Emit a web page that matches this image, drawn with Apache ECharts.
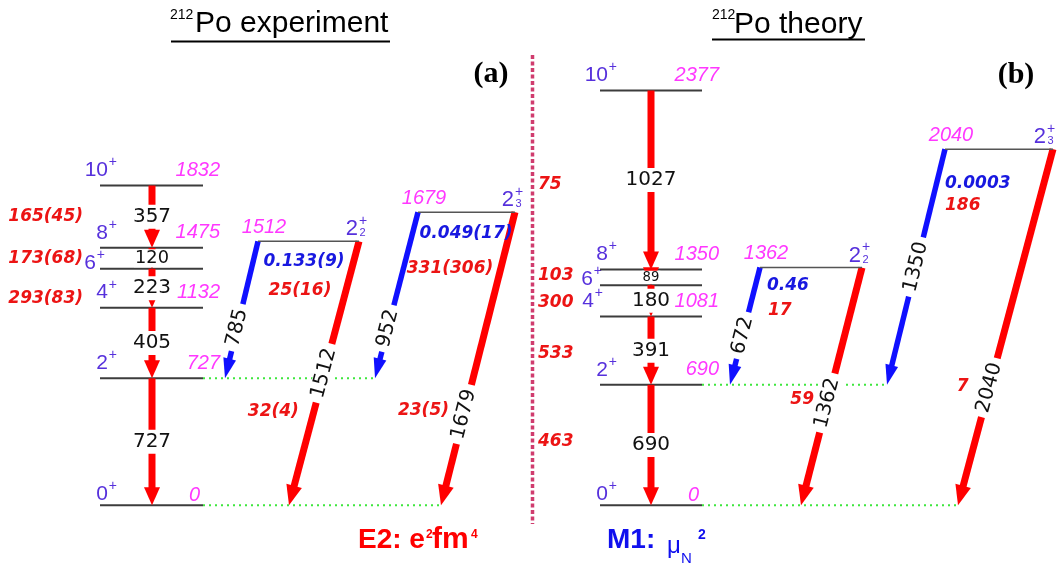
<!DOCTYPE html>
<html><head><meta charset="utf-8">
<script src="https://cdn.jsdelivr.net/npm/echarts@6/dist/echarts.min.js"></script>
<style>html,body{margin:0;padding:0;background:#fff}#c{width:1057px;height:568px}</style>
</head><body><div id="c"></div>
<script>
// ---------------- DATA ----------------
const yrastSpins = ['0', '2', '4', '6', '8', '10'];
const yrastShowEnergy = [true, true, true, false, true, true];

const expYrastEnergies = [0, 727, 1132, 1355, 1475, 1832];
const expYrastGammas = [727, 405, 223, 120, 357];          // level i+1 -> i
const expYrastBE2 = ['', '', '293(83)', '173(68)', '165(45)'];

const thYrastEnergies = [0, 690, 1081, 1261, 1350, 2377];
const thYrastGammas = [690, 391, 180, 89, 1027];
const thYrastBE2 = ['463', '533', '300', '103', '75'];

const sideSubscripts = ['2', '3'];
const expSideEnergies = [1512, 1679];
const expSideGammasToTwo = [785, 952];
const expSideGammasToZero = [1512, 1679];
const expSideBM1 = ['0.133(9)', '0.049(17)'];
const expSideBE2ToTwo = ['25(16)', '331(306)'];
const expSideBE2ToZero = ['32(4)', '23(5)'];

const thSideEnergies = [1362, 2040];
const thSideGammasToTwo = [672, 1350];
const thSideGammasToZero = [1362, 2040];
const thSideBM1 = ['0.46', '0.0003'];
const thSideBE2ToTwo = ['17', '186'];
const thSideBE2ToZero = ['59', '7'];

const panelData = [
  { energies: expYrastEnergies, gammas: expYrastGammas, be2: expYrastBE2,
    sideE: expSideEnergies, toTwo: expSideGammasToTwo, toZero: expSideGammasToZero,
    m1: expSideBM1, e2Two: expSideBE2ToTwo, e2Zero: expSideBE2ToZero },
  { energies: thYrastEnergies, gammas: thYrastGammas, be2: thYrastBE2,
    sideE: thSideEnergies, toTwo: thSideGammasToTwo, toZero: thSideGammasToZero,
    m1: thSideBM1, e2Two: thSideBE2ToTwo, e2Zero: thSideBE2ToZero }
];

// ---------------- LAYOUT (x positions / offsets in px-like units) ----------------
const layout = [
  { x1: 100, x2: 203, ax: 152, beX: 83, beAlign: 'right', beDy: [0, 0, 10, 0, 0], green2To: 375, green0To: 441,
    spinDx: [0, 0, 0, 0, 0, 0],
    side: [
      { x1: 258, x2: 359, blueTo: 225, redTo: 289, fBlue: 0.63, fRed: 0.5, fZero: 0.645, zeroDx: -15,
        m1: [46, 20, 'center'], e2: [42, 49, 'center'], spinDx: -1 },
      { x1: 418, x2: 515, blueTo: 375, redTo: 441, fBlue: 0.70, fRed: 0.69, fZero: 0.676, zeroDx: -16,
        m1: [48, 21, 'center'], e2: [32, 56, 'center'], spinDx: -1 }
    ] },
  { x1: 600, x2: 702, ax: 651, beX: 538, beAlign: 'left', beDy: [-3, 3, 2, -2, 5], green2To: 887, green0To: 958,
    spinDx: [0, 0, -14, -3, 0, 0],
    side: [
      { x1: 760, x2: 862, blueTo: 730, redTo: 801, fBlue: 0.58, fRed: 0.57, fZero: 0.557, zeroDx: -14,
        m1: [7, 18, 'left'], e2: [8, 43, 'left'], spinDx: -1 },
      { x1: 945, x2: 1053, blueTo: 887, redTo: 958, fBlue: 0.50, fRed: 0.67, fZero: 0.668, zeroDx: -21,
        m1: [0, 34, 'left'], e2: [0, 56, 'left'], spinDx: -7 }
    ] }
];

// ---------------- STYLE ----------------
const SPIN_COLOR = '#5630dc';
const ENERGY_COLOR = '#ff38ff';
const RED = '#ff0000';
const BLUE = '#1010ff';
const LABEL_RED = '#ec1414';
const LABEL_BLUE = '#1818e0';
const F_SPIN = "21px 'Liberation Sans', Arial, sans-serif";
const F_SPIN_SIDE = "22px 'Liberation Sans', Arial, sans-serif";
const F_SUP = "14px 'Liberation Sans', Arial, sans-serif";
const F_SUB = "11px 'Liberation Sans', Arial, sans-serif";
const F_EN = "italic 20px 'Liberation Sans', Arial, sans-serif";
const F_BVAL = "italic bold 17px 'DejaVu Sans', sans-serif";
const F_GAMMA = "20px 'DejaVu Sans', sans-serif";

function T(x, y, text, font, fill, align, va, extra) {
  const el = { type: 'text', x: x, y: y,
    style: { text: String(text), font: font, fill: fill, align: align, verticalAlign: va,
             textAlign: align, textVerticalAlign: va } };
  if (extra) {
    if (extra.bg) {
      el.style.backgroundColor = extra.bg; el.style.textBackgroundColor = extra.bg;
      el.style.padding = extra.pad; el.style.textPadding = extra.pad;
    }
    if (extra.lineHeight) { el.style.lineHeight = extra.lineHeight; el.style.textLineHeight = extra.lineHeight; }
    if (extra.rotation) el.rotation = extra.rotation;
  }
  return el;
}

function arrow(p0, p1, color, w, headW, headL) {
  const dx = p1[0] - p0[0], dy = p1[1] - p0[1];
  const L = Math.hypot(dx, dy), ux = dx / L, uy = dy / L;
  const bx = p1[0] - ux * headL, by = p1[1] - uy * headL;
  return [
    { type: 'line', shape: { x1: p0[0], y1: p0[1], x2: bx + ux, y2: by + uy },
      style: { stroke: color, lineWidth: w } },
    { type: 'polygon', shape: { points: [[p1[0], p1[1]],
        [bx - uy * headW / 2, by + ux * headW / 2], [bx + uy * headW / 2, by - ux * headW / 2]] },
      style: { fill: color } }
  ];
}

// ---------------- ROWS ----------------
const yrastLevelRows = [], yrastTransRows = [], sideLevelRows = [], sideTransRows = [], greenRows = [];
panelData.forEach(function (D, pi) {
  const Lp = layout[pi];
  D.energies.forEach(function (E, li) { yrastLevelRows.push([Lp.x1, Lp.x2, E, pi, li]); });
  D.gammas.forEach(function (g, ti) { yrastTransRows.push([Lp.ax, D.energies[ti + 1], D.energies[ti], pi, ti]); });
  greenRows.push([Lp.x2, Lp.green2To, D.energies[1]]);
  greenRows.push([Lp.x2, Lp.green0To, D.energies[0]]);
  D.sideE.forEach(function (E, si) {
    const S = Lp.side[si];
    sideLevelRows.push([S.x1, S.x2, E, pi, si]);
    sideTransRows.push([S.x1, E, S.blueTo, D.energies[1], pi, si, 0]);
    sideTransRows.push([S.x2, E, S.redTo, D.energies[0], pi, si, 1]);
  });
});

function renderYrastLevel(params, api) {
  const E = api.value(2), pi = api.value(3), li = api.value(4);
  const a = api.coord([api.value(0), E]), b = api.coord([api.value(1), E]);
  const y = a[1];
  const ch = [{ type: 'line', shape: { x1: a[0], y1: y, x2: b[0], y2: y }, style: { stroke: '#3c3c3c', lineWidth: 2 } }];
  let sx, sy;
  if (yrastSpins[li] === '6') { sx = a[0] + 5; sy = y - 6; }
  else { sx = a[0] + 17; sy = E === 0 ? y - 11 : y - 15; }
  sx += layout[pi].spinDx[li];
  ch.push(T(sx - 9, sy, yrastSpins[li], F_SPIN, SPIN_COLOR, 'right', 'middle'));
  ch.push(T(sx, sy - 8, '+', F_SUP, SPIN_COLOR, 'right', 'middle'));
  if (yrastShowEnergy[li]) {
    const lab = String(panelData[pi].energies[li]);
    if (E === 0) ch.push(T(b[0] - 3, y - 10, lab, F_EN, ENERGY_COLOR, 'right', 'middle'));
    else ch.push(T(b[0] + 17, y - 15, lab, F_EN, ENERGY_COLOR, 'right', 'middle'));
  }
  return { type: 'group', children: ch };
}

function renderYrastTrans(params, api) {
  const pi = api.value(3), ti = api.value(4);
  const p0 = api.coord([api.value(0), api.value(1)]), p1 = api.coord([api.value(0), api.value(2)]);
  const ch = arrow(p0, p1, RED, 7, 16, 18);
  const my = (p0[1] + p1[1]) / 2, gap = p1[1] - p0[1];
  const fs = Math.min(20, gap * 0.85);
  ch.push(T(p0[0], my, panelData[pi].gammas[ti], fs.toFixed(1) + "px 'DejaVu Sans', sans-serif", '#111', 'center', 'middle',
    { bg: '#fff', pad: fs >= 19 ? [2, 2] : [0, 1], lineHeight: fs }));
  const be = panelData[pi].be2[ti];
  if (be) ch.push(T(layout[pi].beX, my + layout[pi].beDy[ti], be, F_BVAL, LABEL_RED, layout[pi].beAlign, 'middle'));
  return { type: 'group', children: ch };
}

function renderSideLevel(params, api) {
  const E = api.value(2), pi = api.value(3), si = api.value(4);
  const S = layout[pi].side[si], D = panelData[pi];
  const a = api.coord([api.value(0), E]), b = api.coord([api.value(1), E]);
  const y = a[1];
  const ch = [{ type: 'line', shape: { x1: a[0], y1: y, x2: b[0], y2: y }, style: { stroke: '#555', lineWidth: 1.5 } }];
  ch.push(T(a[0] + 6, y - 14, E, F_EN, ENERGY_COLOR, 'center', 'middle'));
  const rx = b[0] + S.spinDx;
  ch.push(T(rx, y - 12, '2', F_SPIN_SIDE, SPIN_COLOR, 'right', 'middle'));
  ch.push(T(rx + 1, y - 20, '+', F_SUP, SPIN_COLOR, 'left', 'middle'));
  ch.push(T(rx + 1.5, y - 8, sideSubscripts[si], F_SUB, SPIN_COLOR, 'left', 'middle'));
  ch.push(T(a[0] + S.m1[0], y + S.m1[1], D.m1[si], F_BVAL, LABEL_BLUE, S.m1[2], 'middle'));
  ch.push(T(a[0] + S.e2[0], y + S.e2[1], D.e2Two[si], F_BVAL, LABEL_RED, S.e2[2], 'middle'));
  return { type: 'group', children: ch };
}

function renderSideTrans(params, api) {
  const pi = api.value(4), si = api.value(5), kind = api.value(6);
  const S = layout[pi].side[si], D = panelData[pi];
  const p0 = api.coord([api.value(0), api.value(1)]), p1 = api.coord([api.value(2), api.value(3)]);
  const ch = kind === 0 ? arrow(p0, p1, BLUE, 5.5, 13, 20) : arrow(p0, p1, RED, 7, 16, 20);
  const f = kind === 0 ? S.fBlue : S.fRed;
  const lx = p0[0] + (p1[0] - p0[0]) * f, ly = p0[1] + (p1[1] - p0[1]) * f;
  const rot = Math.atan2(p1[1] - p0[1], p0[0] - p1[0]);
  ch.push(T(lx, ly, kind === 0 ? D.toTwo[si] : D.toZero[si], F_GAMMA, '#111', 'center', 'middle',
    { bg: '#fff', pad: [0, 5], lineHeight: 20, rotation: rot }));
  if (kind === 1) {
    const zx = p0[0] + (p1[0] - p0[0]) * S.fZero, zy = p0[1] + (p1[1] - p0[1]) * S.fZero;
    ch.push(T(zx + S.zeroDx, zy, D.e2Zero[si], F_BVAL, LABEL_RED, 'right', 'middle'));
  }
  return { type: 'group', children: ch };
}

function renderGreen(params, api) {
  const a = api.coord([api.value(0), api.value(2)]), b = api.coord([api.value(1), api.value(2)]);
  return { type: 'line', shape: { x1: a[0], y1: a[1], x2: b[0], y2: b[1] },
    style: { stroke: '#3ee63e', lineWidth: 2, lineDash: [2, 4] } };
}

function gtext(x, y, text, font, fill, align) {
  return { type: 'text', x: x, y: y, z: 100,
    style: { text: text, font: font, fill: fill, align: align || 'left', verticalAlign: 'middle',
             textAlign: align || 'left', textVerticalAlign: 'middle' } };
}

const chart = echarts.init(document.getElementById('c'), null, { renderer: 'canvas', width: 1057, height: 568 });
chart.setOption({
  animation: false,
  backgroundColor: '#ffffff',
  grid: { left: 0, right: 0, top: 0, bottom: 0 },
  xAxis: { type: 'value', min: 0, max: 1057, show: false },
  yAxis: { type: 'value', min: -360, max: 2895, show: false },
  series: [
    { type: 'custom', name: 'green', coordinateSystem: 'cartesian2d', z: 1, data: greenRows, renderItem: renderGreen },
    { type: 'custom', name: 'levels', coordinateSystem: 'cartesian2d', z: 2, data: yrastLevelRows, renderItem: renderYrastLevel },
    { type: 'custom', name: 'yrast', coordinateSystem: 'cartesian2d', z: 3, data: yrastTransRows, renderItem: renderYrastTrans },
    { type: 'custom', name: 'side', coordinateSystem: 'cartesian2d', z: 4, data: sideTransRows, renderItem: renderSideTrans },
    { type: 'custom', name: 'sideLevels', coordinateSystem: 'cartesian2d', z: 5, data: sideLevelRows, renderItem: renderSideLevel }
  ],
  graphic: { elements: [
    gtext(170, 15, '212', "14px 'Liberation Sans', Arial, sans-serif", '#000'),
    gtext(195, 24, 'Po experiment', "30px 'Liberation Sans', Arial, sans-serif", '#000'),
    { type: 'line', z: 100, shape: { x1: 171, y1: 41.5, x2: 390, y2: 41.5 }, style: { stroke: '#000', lineWidth: 2 } },
    gtext(712, 15, '212', "14px 'Liberation Sans', Arial, sans-serif", '#000'),
    gtext(734, 25, 'Po theory', "30px 'Liberation Sans', Arial, sans-serif", '#000'),
    { type: 'line', z: 100, shape: { x1: 712, y1: 39.5, x2: 865, y2: 39.5 }, style: { stroke: '#000', lineWidth: 2 } },
    gtext(491, 74, '(a)', "bold 30px 'Liberation Serif', serif", '#000', 'center'),
    gtext(1016, 75, '(b)', "bold 30px 'Liberation Serif', serif", '#000', 'center'),
    { type: 'line', z: 100, shape: { x1: 532.5, y1: 55, x2: 532.5, y2: 524 },
      style: { stroke: '#d03c6e', lineWidth: 3.5, lineDash: [4, 2.5] } },
    gtext(358, 540, 'E2: e', "bold 28px 'Liberation Sans', Arial, sans-serif", RED),
    gtext(426, 535, '2', "bold 12px 'Liberation Sans', Arial, sans-serif", RED),
    gtext(432, 540, 'fm', "bold 30px 'Liberation Sans', Arial, sans-serif", RED),
    gtext(471, 535, '4', "bold 12px 'Liberation Sans', Arial, sans-serif", RED),
    gtext(607, 540, 'M1:', "bold 28px 'Liberation Sans', Arial, sans-serif", '#1010ee'),
    gtext(667, 546, 'μ', "24px 'Liberation Sans', Arial, sans-serif", '#1010ee'),
    gtext(681, 559, 'N', "15px 'Liberation Sans', Arial, sans-serif", '#1010ee'),
    gtext(698, 535, '2', "bold 14px 'Liberation Sans', Arial, sans-serif", '#1010ee')
  ] }
});
</script>
</body></html>
